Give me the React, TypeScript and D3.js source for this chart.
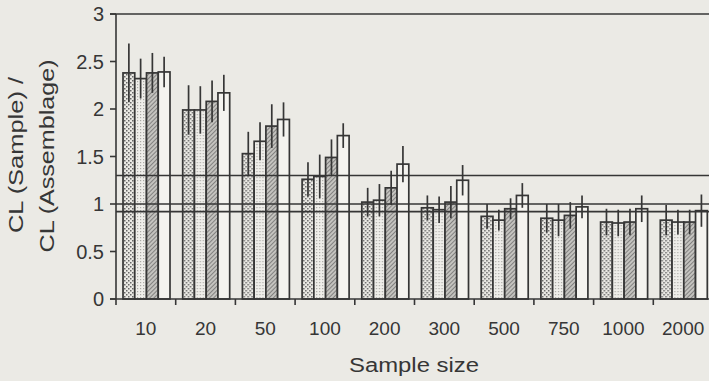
import * as d3 from 'd3';

// sample sizes on the x axis
const sampleSizes = ['10', '20', '50', '100', '200', '300', '500', '750', '1000', '2000'];

// four series per sample size (bar heights)
const series1 = [2.38, 1.99, 1.53, 1.26, 1.02, 0.96, 0.87, 0.85, 0.81, 0.83];
const series2 = [2.32, 1.99, 1.66, 1.29, 1.04, 0.94, 0.83, 0.83, 0.80, 0.81];
const series3 = [2.38, 2.08, 1.82, 1.49, 1.17, 1.02, 0.95, 0.88, 0.81, 0.81];
const series4 = [2.39, 2.17, 1.89, 1.72, 1.42, 1.25, 1.09, 0.97, 0.95, 0.93];

// half-width of the error bars
const err1 = [0.31, 0.26, 0.23, 0.18, 0.15, 0.13, 0.13, 0.15, 0.14, 0.16];
const err2 = [0.21, 0.25, 0.20, 0.23, 0.17, 0.14, 0.11, 0.17, 0.14, 0.13];
const err3 = [0.21, 0.22, 0.23, 0.19, 0.18, 0.17, 0.11, 0.14, 0.14, 0.13];
const err4 = [0.16, 0.19, 0.18, 0.13, 0.19, 0.16, 0.13, 0.12, 0.14, 0.17];

// horizontal reference lines
const refLines = [1.3, 1.0, 0.92];

const yTicks = [0, 0.5, 1, 1.5, 2, 2.5, 3];

const W = 709;
const H = 381;
const ink = '#363636';
const font = '"Liberation Sans", Arial, sans-serif';

const values = [series1, series2, series3, series4];
const errors = [err1, err2, err3, err4];
const fills = ['url(#pDots)', 'url(#pFine)', 'url(#pHatch)', '#f4f3ef'];

export default function App() {
  const x = d3.scaleBand<string>().domain(sampleSizes).range([116, 713]);
  const inner = d3.scaleBand<number>().domain([0, 1, 2, 3]).range([7, 54]);
  const y = d3.scaleLinear().domain([0, 3]).range([299, 14]);

  return (
    <svg width={W} height={H} style={{ position: 'absolute', left: 0, top: 0 }}
      fontFamily={font}>
      <defs>
        <pattern id="pDots" width="4" height="4" patternUnits="userSpaceOnUse">
          <rect width="4" height="4" fill="#eae9e4" />
          <rect x="0" y="0" width="1.5" height="1.5" fill="#666" />
          <rect x="2" y="2" width="1.5" height="1.5" fill="#666" />
        </pattern>
        <pattern id="pFine" width="3" height="3" patternUnits="userSpaceOnUse">
          <rect width="3" height="3" fill="#efeeea" />
          <rect x="0" y="0" width="1.2" height="1.2" fill="#aaa9a5" />
        </pattern>
        <pattern id="pHatch" width="3" height="3" patternUnits="userSpaceOnUse"
          patternTransform="rotate(45)">
          <rect width="3" height="3" fill="#c4c3bf" />
          <line x1="0" y1="0" x2="0" y2="3" stroke="#555" strokeWidth="1.2" />
        </pattern>
      </defs>
      <rect width={W} height={H} fill="#ebeae5" />

      {/* bars */}
      {sampleSizes.map((s, i) => (
        <g key={s} transform={`translate(${x(s)},0)`}>
          {values.map((vals, k) => (
            <rect key={k} x={inner(k)} y={y(vals[i])} width={inner.bandwidth()}
              height={y(0) - y(vals[i])} fill={fills[k]} stroke={ink} strokeWidth={1.7} />
          ))}
        </g>
      ))}

      {/* reference lines */}
      {refLines.map(v => (
        <line key={v} x1={116} x2={W} y1={y(v)} y2={y(v)} stroke={ink} strokeWidth={1.6} />
      ))}

      {/* error bars */}
      {sampleSizes.map((s, i) => (
        <g key={'e' + s} transform={`translate(${x(s)},0)`}>
          {values.map((vals, k) => {
            const cx = (inner(k) ?? 0) + inner.bandwidth() / 2;
            return (
              <line key={k} x1={cx} x2={cx} y1={y(vals[i] + errors[k][i])}
                y2={y(vals[i] - errors[k][i])} stroke={ink} strokeWidth={1.7} />
            );
          })}
        </g>
      ))}

      {/* y axis */}
      <line x1={116} x2={116} y1={y(3)} y2={y(0)} stroke={ink} strokeWidth={1.6} />
      <line x1={110} x2={W} y1={y(3)} y2={y(3)} stroke={ink} strokeWidth={1.6} />
      {yTicks.map(t => (
        <g key={t}>
          <line x1={110} x2={116} y1={y(t)} y2={y(t)} stroke={ink} strokeWidth={1.6} />
          <text x={104} y={y(t)} dy="0.35em" textAnchor="end" fontSize={20} fill={ink}>{t}</text>
        </g>
      ))}

      {/* x axis */}
      <line x1={110} x2={W} y1={y(0)} y2={y(0)} stroke={ink} strokeWidth={1.6} />
      {sampleSizes.map(s => (
        <g key={'t' + s}>
          <line x1={x(s)} x2={x(s)} y1={y(0)} y2={y(0) + 6} stroke={ink} strokeWidth={1.6} />
          <text x={(x(s) ?? 0) + x.bandwidth() / 2} y={335} textAnchor="middle" fontSize={19}
            fill={ink}>{s}</text>
        </g>
      ))}
      <text x={414} y={372} textAnchor="middle" fontSize={20} fill={ink}
        textLength={130} lengthAdjust="spacingAndGlyphs">Sample size</text>

      {/* y title */}
      <text transform="translate(23,155) rotate(-90)" textAnchor="middle" fontSize={21}
        fill={ink} textLength={156} lengthAdjust="spacingAndGlyphs">CL (Sample) /</text>
      <text transform="translate(54,156) rotate(-90)" textAnchor="middle" fontSize={21}
        fill={ink} textLength={193} lengthAdjust="spacingAndGlyphs">CL (Assemblage)</text>
    </svg>
  );
}
